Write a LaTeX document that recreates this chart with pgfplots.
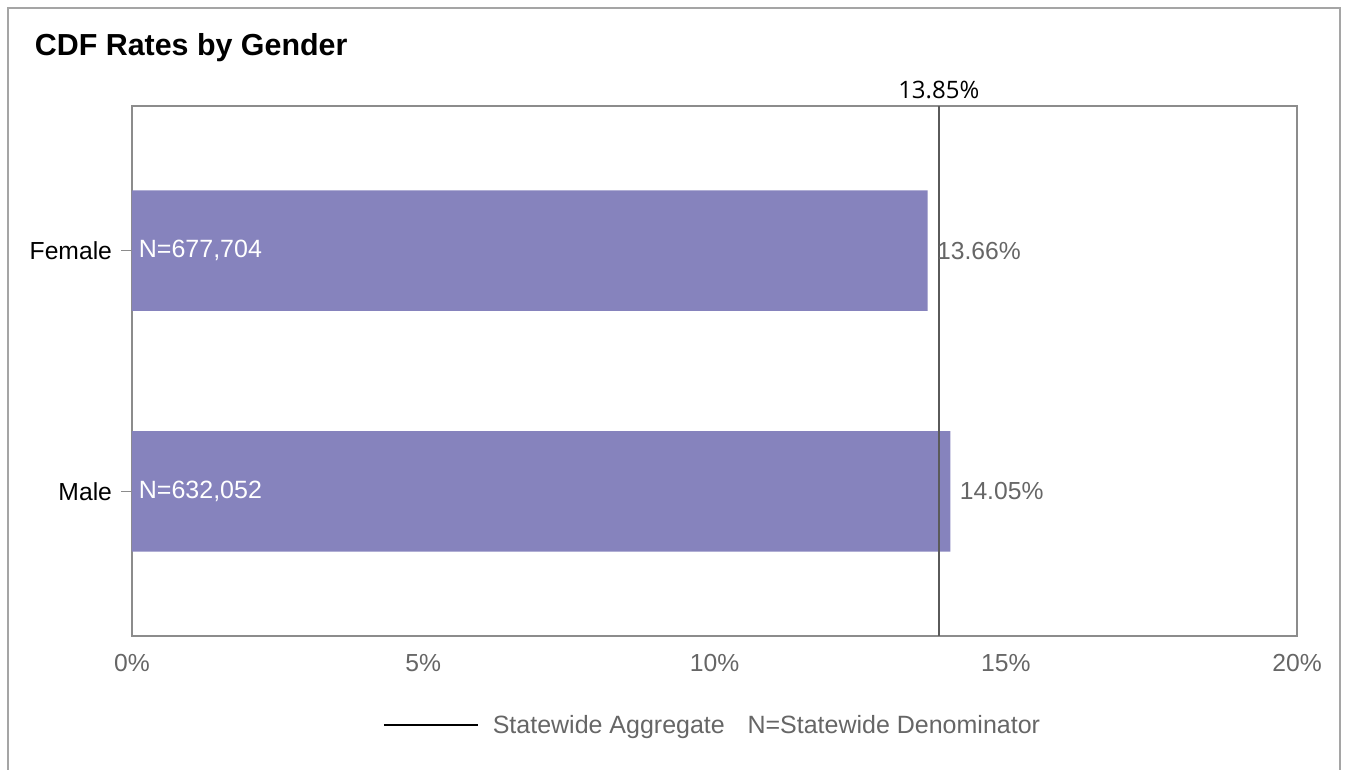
\documentclass[border=0pt]{standalone}
\usepackage{pgfplots}
\pgfplotsset{compat=1.18}
\usepackage{fontspec}
\setmainfont{Liberation Sans}
\newfontfamily\opensans{Open Sans}

\definecolor{barc}{RGB}{134,131,189}
\definecolor{axisgray}{RGB}{140,140,140}
\definecolor{txtgray}{RGB}{102,102,102}
\definecolor{refline}{RGB}{90,90,90}
\definecolor{framegray}{RGB}{165,165,165}

\begin{document}
\begin{tikzpicture}
% page = 1345 x 769 px, 1px = 0.75pt
\useasboundingbox (0,0) rectangle (1008.75pt,-576.75pt);
\draw[framegray, line width=1.5pt] (6pt,-580pt) -- (6pt,-6pt) -- (1005pt,-6pt) -- (1005pt,-580pt);
\node[anchor=base west, inner sep=0pt, font=\fontsize{22.8}{26}\selectfont\bfseries] at (26pt,-41.5pt) {CDF Rates by Gender};

\begin{axis}[
    at={(99pt,-477pt)}, anchor=south west,
    scale only axis,
    width=873.75pt, height=397.5pt,
    xmin=0, xmax=20,
    ymin=-0.6, ymax=1.6,
    xtick={0,5,10,15,20},
    xticklabel={\pgfmathprintnumber{\tick}\%},
    ytick={0,1},
    yticklabels={Male,Female},
    ytick pos=left,
    /pgf/number format/assume math mode=true,
    axis line style={axisgray, line width=1.5pt},
    x tick style={draw=none},
    y tick style={axisgray, line width=0.9pt},
    tick align=outside,
    major tick length=8pt,
    xticklabel style={text=txtgray, font=\fontsize{18.5}{22}\selectfont, yshift=-2.5pt},
    yticklabel style={text=black, font=\fontsize{18.5}{22}\selectfont, xshift=-3.5pt},
    clip=false,
    legend style={draw=none, fill=none, at={(0.4985,-0.168)}, anchor=center,
        font=\fontsize{18.75}{22}\selectfont, text=txtgray},
    legend cell align=left,
]
% bars
\addplot[xbar, fill=barc, draw=none, bar width=0.5, forget plot,
    point meta=x,
    nodes near coords={\pgfmathprintnumber[fixed,fixed zerofill,precision=2]{\pgfplotspointmeta}\%},
    nodes near coords style={anchor=west, text=txtgray, font=\fontsize{18.5}{22}\selectfont, xshift=3.5pt}]
    coordinates {(14.05,0) (13.66,1)};
% denominators inside bars
\addplot[draw=none, mark=none, forget plot,
    point meta=explicit symbolic,
    nodes near coords,
    nodes near coords style={anchor=west, text=white, font=\fontsize{18.75}{22}\selectfont, inner sep=5pt}]
    coordinates {(0,0) [N=632,052] (0,1) [N=677,704]};
% statewide aggregate
\addplot[refline, line width=1.5pt, forget plot] coordinates {(13.85,-0.6) (13.85,1.6)};
\node[anchor=base, inner sep=0pt, font=\opensans\fontsize{18}{22}\selectfont] at (axis cs:13.85,1.6) [yshift=6pt] {13.85\%};

\addlegendimage{legend image code/.code={\draw[black, line width=1.5pt] (0pt,0pt) -- (71pt,0pt);}}
\addlegendentry{\hspace{8pt}Statewide Aggregate\hspace{17pt}N=Statewide Denominator}
\end{axis}
\end{tikzpicture}
\end{document}
